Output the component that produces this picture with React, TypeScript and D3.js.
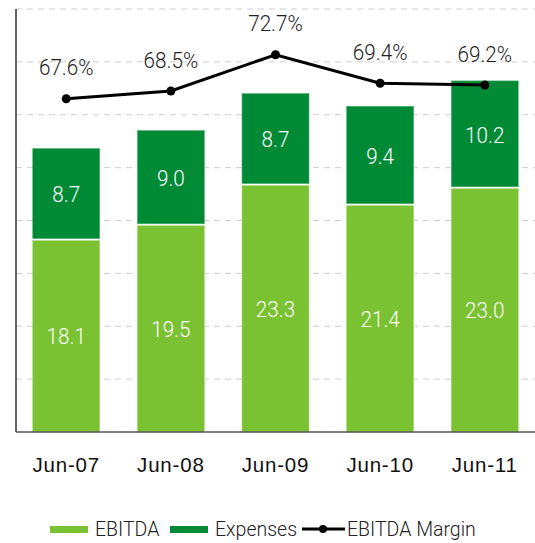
import React from "react";
import * as d3 from "d3";

const categories = ["Jun-07", "Jun-08", "Jun-09", "Jun-10", "Jun-11"];
const ebitda = [18.1, 19.5, 23.3, 21.4, 23.0];
const expenses = [8.7, 9.0, 8.7, 9.4, 10.2];
const margin = [67.6, 68.5, 72.7, 69.4, 69.2];
const yTicks = [0, 5, 10, 15, 20, 25, 30, 35, 40];

const W = 535;
const H = 543;
const plotLeft = 16;
const plotRight = 535;
const plotTop = 9;
const plotBottom = 432;

const LIGHT = "#7AC231";
const DARK = "#008A36";
const labelFont = "Roboto, 'Liberation Sans', Arial, sans-serif";

function Label({ x, y, text, fill }: { x: number; y: number; text: string; fill: string }) {
  return (
    <text
      transform={`translate(${x},${y}) scale(0.94,1)`}
      dy="0.35em"
      textAnchor="middle"
      fill={fill}
      fontFamily={labelFont}
      fontWeight={300}
      fontSize={22}
    >
      {text}
    </text>
  );
}

export default function App() {
  const x = d3
    .scaleBand<string>()
    .domain(categories)
    .range([plotLeft, plotRight])
    .paddingInner(0.36)
    .paddingOuter(0.16);
  const y = d3.scaleLinear().domain([0, 40]).range([plotBottom, plotTop]);
  const y2 = d3.scaleLinear().domain([29, 78]).range([plotBottom, plotTop]);

  const line = d3
    .line<number>()
    .x((_, i) => (x(categories[i]) ?? 0) + x.bandwidth() / 2)
    .y((d) => y2(d));

  return (
    <svg
      width={W}
      height={H}
      style={{ position: "absolute", left: 0, top: 0, background: "#fff" }}
    >
      {yTicks.slice(1).map((t) => (
        <line
          key={t}
          x1={plotLeft}
          x2={plotRight}
          y1={y(t)}
          y2={y(t)}
          stroke="#cfcfcf"
          strokeWidth={1}
          strokeDasharray="6,5"
        />
      ))}
      {categories.map((c, i) => {
        const bx = x(c) ?? 0;
        const bw = x.bandwidth();
        const y0 = y(0);
        const y1 = y(ebitda[i]);
        const y2v = y(ebitda[i] + expenses[i]);
        return (
          <g key={c}>
            <rect x={bx} y={y1} width={bw} height={y0 - y1} fill={LIGHT} stroke="#a6d97a" strokeWidth={0.6} />
            <rect x={bx} y={y2v} width={bw} height={y1 - y2v - 2} fill={DARK} stroke="#4fb070" strokeWidth={0.6} />
            <Label x={bx + bw / 2} y={(y0 + y1) / 2} text={ebitda[i].toFixed(1)} fill="#fff" />
            <Label x={bx + bw / 2} y={(y1 + y2v) / 2} text={expenses[i].toFixed(1)} fill="#fff" />
            <text
              x={bx + bw / 2}
              y={465}
              dy="0.35em"
              textAnchor="middle"
              fill="#111"
              fontFamily="'Liberation Sans', Arial, sans-serif"
              fontSize={20.5}
              letterSpacing={0.8}
            >
              {c}
            </text>
          </g>
        );
      })}
      <line x1={plotLeft} x2={plotLeft} y1={plotTop} y2={plotBottom} stroke="#333" strokeWidth={1.5} />
      <line x1={plotLeft} x2={plotRight} y1={plotBottom} y2={plotBottom} stroke="#555" strokeWidth={1.5} />
      <path d={line(margin) ?? ""} fill="none" stroke="#000" strokeWidth={3} />
      {margin.map((m, i) => {
        const cx = (x(categories[i]) ?? 0) + x.bandwidth() / 2;
        return (
          <g key={i}>
            <circle cx={cx} cy={y2(m)} r={4.5} fill="#000" />
            <Label x={cx} y={y2(m) - 31} text={`${m.toFixed(1)}%`} fill="#222" />
          </g>
        );
      })}
      <g fontFamily={labelFont} fontWeight={300} fontSize={19.5} fill="#222">
        <rect x={50} y={526} width={38} height={7} fill={LIGHT} />
        <text x={95} y={529} dy="0.35em">EBITDA</text>
        <rect x={170} y={526} width={38} height={7} fill={DARK} />
        <text x={215} y={529} dy="0.35em">Expenses</text>
        <line x1={302} x2={345} y1={529} y2={529} stroke="#000" strokeWidth={3} />
        <circle cx={323} cy={529} r={4} fill="#000" />
        <text x={347} y={529} dy="0.35em">EBITDA Margin</text>
      </g>
    </svg>
  );
}
